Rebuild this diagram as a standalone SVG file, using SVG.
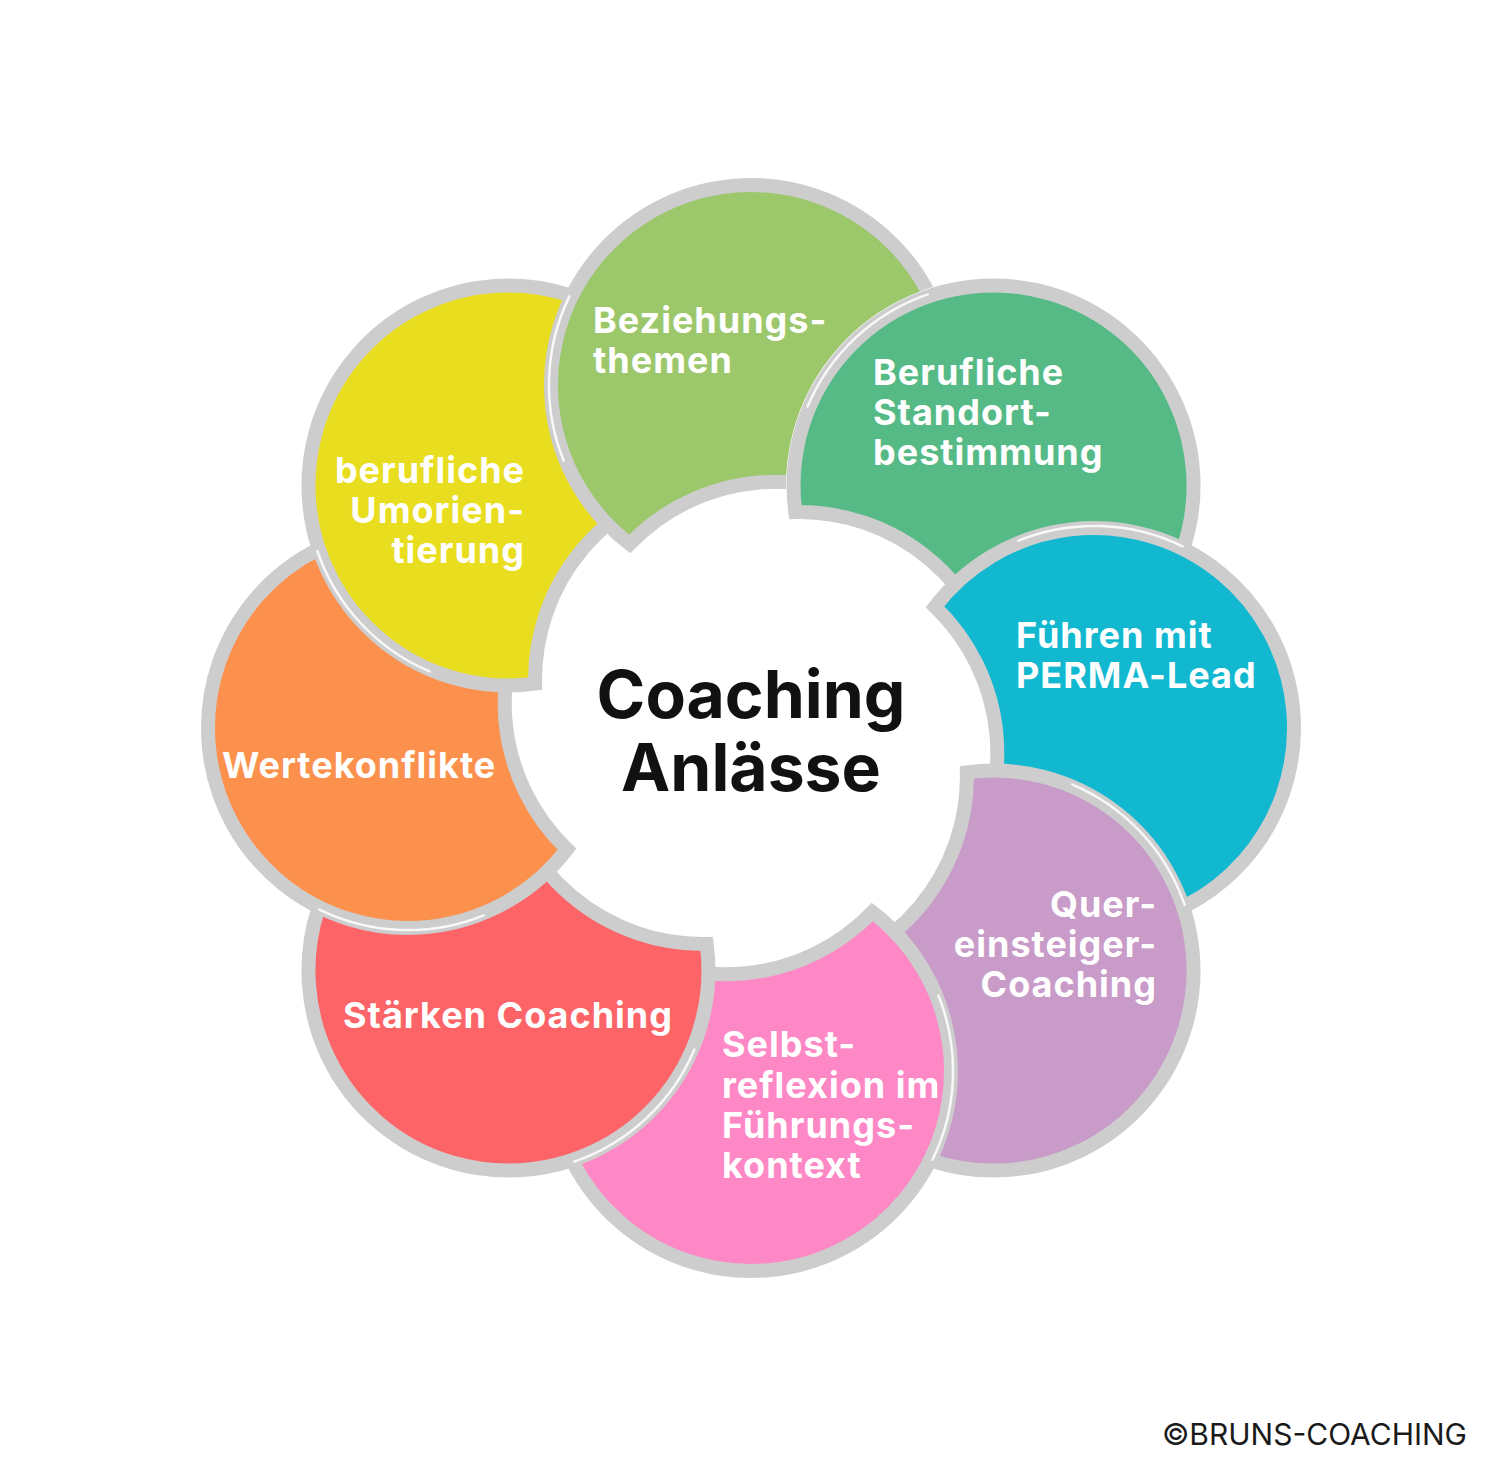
<svg xmlns="http://www.w3.org/2000/svg" width="1500" height="1458" viewBox="0 0 1500 1458">
<style>
.shape{stroke:#cdcdcd;stroke-width:14;stroke-linejoin:miter;stroke-miterlimit:10}
.hl{fill:none;stroke:#ffffff;stroke-width:2.5;stroke-linecap:round;opacity:.85}
.lbl{font-family:Inter,"Noto Sans","Liberation Sans",sans-serif;font-weight:700;font-size:36px;letter-spacing:1px;fill:#ffffff}
.end{text-anchor:end}
.title{font-family:Inter,"Noto Sans","Liberation Sans",sans-serif;font-weight:700;font-size:66px;fill:#111111;text-anchor:middle}
.copy{font-family:Inter,"Noto Sans","Liberation Sans",sans-serif;font-weight:400;font-size:30px;fill:#1a1a1a;text-anchor:end}
</style>
<defs>
<path id="petal" d="M184 -121.3A200 200 0 1 1 206.3 146A203 203 0 0 0 184 -121.3Z"/>
<path id="hl" d="M267.3 -187.3A202 202 0 0 1 431.6 -181.6"/>
<mask id="mask-lg" maskUnits="userSpaceOnUse" x="0" y="0" width="1500" height="1458">
<rect width="1500" height="1458" fill="#ffffff"/>
<use href="#petal" transform="translate(751,728) rotate(-45)" fill="#000000" stroke="#000000" stroke-width="15"/>
</mask>
</defs>
<rect width="1500" height="1458" fill="#ffffff"/>

<g id="node-standortbestimmung">
<g transform="translate(751,728) rotate(-45)"><use href="#petal" class="shape" fill="#55ba86"/><use href="#hl" class="hl"/></g>
<text class="lbl"><tspan x="873" y="385">Berufliche</tspan><tspan x="873" y="425">Standort-</tspan><tspan x="873" y="465">bestimmung</tspan></text>
</g>

<g id="node-perma-lead">
<g transform="translate(751,728) rotate(0)"><use href="#petal" class="shape" fill="#12b8d0"/><use href="#hl" class="hl"/></g>
<text class="lbl"><tspan x="1016" y="648">Führen mit</tspan><tspan x="1016" y="688">PERMA-Lead</tspan></text>
</g>

<g id="node-quereinsteiger">
<g transform="translate(751,728) rotate(45)"><use href="#petal" class="shape" fill="#c89bc8"/><use href="#hl" class="hl"/></g>
<text class="lbl end"><tspan x="1157" y="917">Quer-</tspan><tspan x="1157" y="957">einsteiger-</tspan><tspan x="1157" y="997">Coaching</tspan></text>
</g>

<g id="node-selbstreflexion">
<g transform="translate(751,728) rotate(90)"><use href="#petal" class="shape" fill="#fd88c5"/><use href="#hl" class="hl"/></g>
<text class="lbl"><tspan x="722" y="1057">Selbst-</tspan><tspan x="722" y="1098">reflexion im</tspan><tspan x="722" y="1138">Führungs-</tspan><tspan x="722" y="1178">kontext</tspan></text>
</g>

<g id="node-staerken">
<g transform="translate(751,728) rotate(135)"><use href="#petal" class="shape" fill="#fd6468"/><use href="#hl" class="hl"/></g>
<text class="lbl" x="343" y="1028">Stärken Coaching</text>
</g>

<g id="node-wertekonflikte">
<g transform="translate(751,728) rotate(180)"><use href="#petal" class="shape" fill="#fc914e"/><use href="#hl" class="hl"/></g>
<text class="lbl" x="222" y="778">Wertekonflikte</text>
</g>

<g id="node-umorientierung">
<g transform="translate(751,728) rotate(225)"><use href="#petal" class="shape" fill="#e9dd20"/><use href="#hl" class="hl"/></g>
<text class="lbl end"><tspan x="525" y="483">berufliche</tspan><tspan x="525" y="523">Umorien-</tspan><tspan x="525" y="563">tierung</tspan></text>
</g>

<g id="node-beziehungsthemen">
<g mask="url(#mask-lg)"><g transform="translate(751,728) rotate(-90)"><use href="#petal" class="shape" fill="#9cc76b"/><use href="#hl" class="hl"/></g></g>
<text class="lbl"><tspan x="593" y="333">Beziehungs-</tspan><tspan x="593" y="373">themen</tspan></text>
</g>

<g id="node-center">
<text class="title"><tspan x="751" y="718">Coaching</tspan><tspan x="751" y="791">Anlässe</tspan></text>
</g>

<text class="copy" x="1467" y="1445">©BRUNS-COACHING</text>
</svg>
